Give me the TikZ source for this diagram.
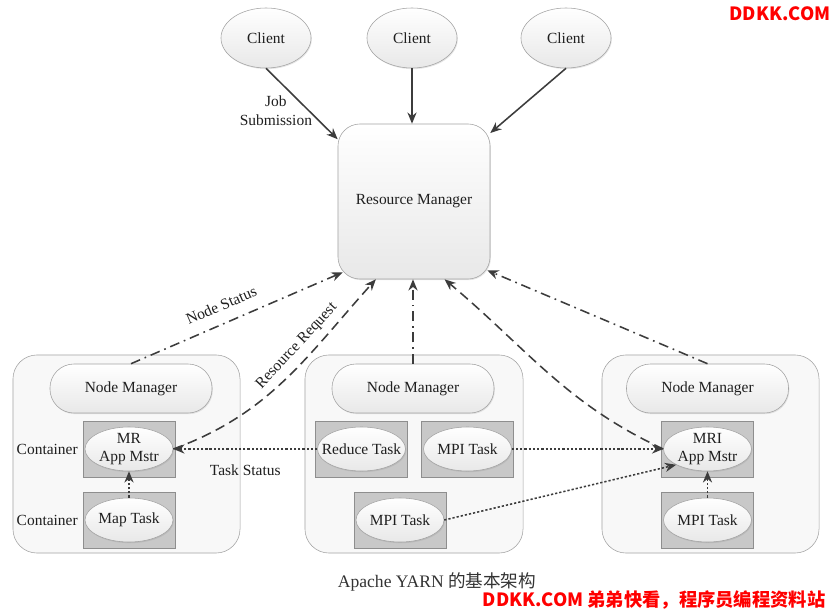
\documentclass[tikz,border=0pt]{standalone}
\usepackage{fontspec}
\setmainfont{Liberation Serif}
\newfontfamily\cjk{Noto Sans CJK SC}
\usetikzlibrary{positioning,arrows.meta,calc,shapes.geometric,shadows}
\definecolor{linegray}{HTML}{3C3C3C}
\definecolor{edgegray}{HTML}{A3A3A3}
\definecolor{boxgray}{HTML}{C8C8C8}
\definecolor{boxedge}{HTML}{8E8E8E}
\definecolor{hostfill}{HTML}{F8F8F8}
\definecolor{wmred}{HTML}{FF0000}

\begin{document}
\begin{tikzpicture}[x=0.025cm, y=-0.025cm,
  font=\fontsize{11}{12.5}\selectfont, text=black!88,
  soft/.style={draw=edgegray, top color=white, bottom color=black!9,
    drop shadow={shadow xshift=0.6pt, shadow yshift=-0.8pt, opacity=0.2}},
  client/.style={soft, ellipse, minimum width=2.25cm, minimum height=1.5cm, inner sep=0pt},
  manager/.style={soft, rectangle, rounded corners=0.55cm, minimum width=3.8cm, minimum height=3.875cm},
  host/.style={draw=edgegray, fill=hostfill, rectangle, rounded corners=0.6cm, minimum height=4.95cm},
  nmbox/.style={soft, rectangle, rounded corners=0.6cm, minimum width=4.05cm, minimum height=1.225cm},
  cbox/.style={draw=boxedge, fill=boxgray, rectangle, minimum width=2.3cm, minimum height=1.4cm},
  task/.style={soft, ellipse, minimum width=2.2cm, minimum height=1.1cm, inner xsep=-8pt, inner ysep=-1pt, align=center},
  arr/.style={draw=linegray, line width=1.1pt, -{Stealth[length=8pt,width=6.5pt]}},
  dashdot/.style={arr, dash pattern=on 7pt off 3.5pt on 1.2pt off 3.5pt},
  dashline/.style={arr, dash pattern=on 7pt off 4pt},
  dotline/.style={arr, dash pattern=on 1.6pt off 1.4pt},
  wm/.style={text=wmred, font=\cjk\bfseries\fontsize{13}{13}\selectfont}]

  \useasboundingbox[fill=white] (0,0) rectangle (836,611);

  % clients and resource manager
  \node[client] (cl1) at (266,38) {Client};
  \node[client] (cl2) at (412,38) {Client};
  \node[client] (cl3) at (566,38) {Client};
  \node[manager] (rm) at (414,201.5) {Resource Manager};

  % hosts
  \node[host, minimum width=5.675cm] (host1) at (126.5,454) {};
  \node[host, minimum width=5.45cm] (host2) at (414,454) {};
  \node[host, minimum width=5.425cm] (host3) at (710.5,454) {};

  \node[nmbox] (nm1) at (131,388.5) {Node Manager};
  \node[nmbox] (nm2) at (413,388.5) {Node Manager};
  \node[nmbox] (nm3) at (707.5,388.5) {Node Manager};

  % containers
  \node[cbox] (mrbox) at (129,449) {};
  \node[cbox] (mapbox) at (129,520) {};
  \node[cbox] (redbox) at (361.5,449) {};
  \node[cbox] (mpiabox) at (467.5,449) {};
  \node[cbox] (mpibbox) at (400,520) {};
  \node[cbox] (mribox) at (707.5,449) {};
  \node[cbox] (mpicbox) at (707.5,520) {};

  \node[task] (mr) at (mrbox) {MR\\App Mstr};
  \node[task] (map) at (mapbox) {Map Task};
  \node[task] (red) at (redbox) {Reduce Task};
  \node[task] (mpia) at (mpiabox) {MPI Task};
  \node[task] (mpib) at (mpibbox) {MPI Task};
  \node[task] (mri) at (mribox) {MRI\\App Mstr};
  \node[task] (mpic) at (mpicbox) {MPI Task};

  \node[left=0pt of mrbox] (cont1) {Container};
  \node[left=0pt of mapbox] (cont2) {Container};

  % job submission
  \draw[arr] (cl1.south) -- ($(rm.north west)!0.1!(rm.south west)$)
    node[pos=0.6, left=-6pt, align=center] {Job\\[1pt]Submission};
  \draw[arr] (cl2.south) -- (cl2.south |- rm.north);
  \draw[arr] (cl3.south) -- ($(rm.north east)!0.06!(rm.south east)$);

  % node status
  \draw[dashdot] (nm1.north) -- ($(rm.south west)+(5,-7)$)
    node[pos=0.46, sloped, above=5pt] {Node Status};
  \draw[dashdot] (nm2.north) -- (nm2.north |- rm.south);
  \draw[dashdot] (nm3.north) -- ($(rm.south east)+(-3,-9)$);

  % resource request
  \draw[dashline] (mr.east) to[out=20, in=228]
    node[pos=0.63, sloped, above=2pt] {Resource Request} ($(rm.south)!0.5!(rm.south west)$);
  \draw[dashline] (mri.west) to[out=155, in=-40] ($(rm.south)!0.4!(rm.south east)$);

  % task status
  \draw[dotline] (red.west) -- (mr.east) node[midway, below=7.5pt] {Task Status};
  \draw[dotline] (mpia.east) -- (mri.west);
  \draw[dotline] (mpib.east) -- (mri.south west);
  \draw[dotline] (map.north) -- (mr.south);
  \draw[dotline] (mpic.north) -- (mri.south);

  % caption
  \node[font=\fontsize{12.5}{14}\selectfont, text=black!80] (cap) at (437,582)
    {Apache YARN {\cjk 的基本架构}};
  \node[wm] (wm1) at (780,14) {DDKK.COM};
  \node[wm] (wm2) at (654,600) {DDKK.COM 弟弟快看，程序员编程资料站};
\end{tikzpicture}
\end{document}
